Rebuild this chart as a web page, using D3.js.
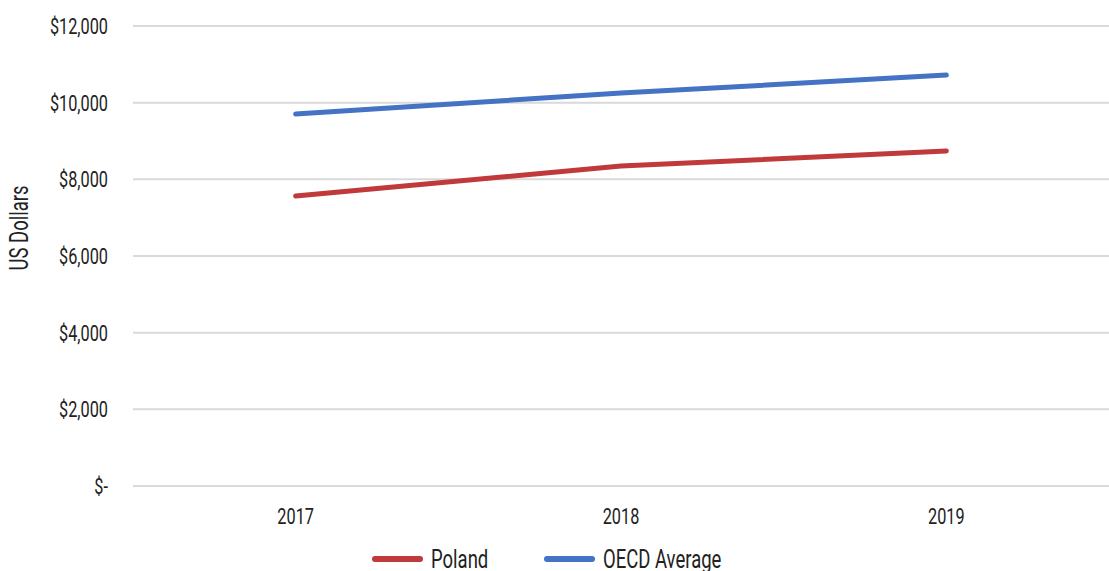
<!DOCTYPE html>
<meta charset="utf-8">
<title>Poland vs OECD</title>
<style>
body { margin: 0; background: #fff; }
text { font-family: Roboto, sans-serif; fill: #222; font-size: 22px; }
.grid line { stroke: #d9d9d9; stroke-width: 2px; }
.line { fill: none; stroke-width: 5px; stroke-linecap: round; }
</style>
<svg width="1109" height="571"></svg>
<script src="https://d3js.org/d3.v7.min.js"></script>
<script>

var years = ["2017", "2018", "2019"];
var poland = [7565, 8345, 8740];
var oecd = [9705, 10250, 10720];
var yTicks = [0, 2000, 4000, 6000, 8000, 10000, 12000];

var series = [
  {name: "Poland", color: "#c0393b", values: poland},
  {name: "OECD Average", color: "#4472c4", values: oecd}
];

// the source font is a condensed grotesk, squeeze Roboto to match
var squeeze = 0.74;
var place = function(px, py) { return "translate(" + px + "," + py + ") scale(" + squeeze + ",1)"; };

var svg = d3.select("svg"),
    margin = {top: 26, right: 0, bottom: 85, left: 133},
    width = +svg.attr("width") - margin.left - margin.right,
    height = +svg.attr("height") - margin.top - margin.bottom,
    g = svg.append("g").attr("transform", "translate(" + margin.left + "," + margin.top + ")");

var x = d3.scalePoint().domain(years).range([0, width]).padding(0.5);
var y = d3.scaleLinear().domain([0, 12000]).range([height, 0]);

var fmt = function(d) { return d === 0 ? "$-" : "$" + d3.format(",")(d); };

// grid
g.append("g").attr("class", "grid")
  .selectAll("line").data(yTicks).enter().append("line")
    .attr("x1", 0).attr("x2", width)
    .attr("y1", d => y(d)).attr("y2", d => y(d));

// y labels
g.append("g").selectAll("text").data(yTicks).enter().append("text")
  .attr("transform", d => place(-25, y(d)))
  .attr("dy", "0.36em")
  .attr("text-anchor", "end")
  .text(fmt);

// x labels
g.append("g").selectAll("text").data(years).enter().append("text")
  .attr("transform", d => place(x(d), height + 38))
  .attr("text-anchor", "middle")
  .text(d => d);

svg.append("text")
  .attr("transform", "translate(28,228) rotate(-90) scale(" + squeeze + ",1)")
  .attr("text-anchor", "middle")
  .style("font-size", "25px")
  .text("US Dollars");

var line = d3.line()
  .x((d, i) => x(years[i]))
  .y(d => y(d));

g.selectAll(".line").data(series).enter().append("path")
  .attr("class", "line")
  .attr("stroke", d => d.color)
  .attr("d", d => line(d.values));

// legend
var legendX = [375, 547];
var lg = svg.selectAll(".legend").data(series).enter().append("g")
  .attr("transform", (d, i) => "translate(" + legendX[i] + ",559)");
lg.append("line").attr("x1", 0).attr("x2", 45)
  .attr("stroke", d => d.color).attr("stroke-width", 6).attr("stroke-linecap", "round");
lg.append("text")
  .attr("transform", place(56, 0))
  .attr("dy", "0.36em")
  .style("font-size", "25px")
  .text(d => d.name);

</script>
